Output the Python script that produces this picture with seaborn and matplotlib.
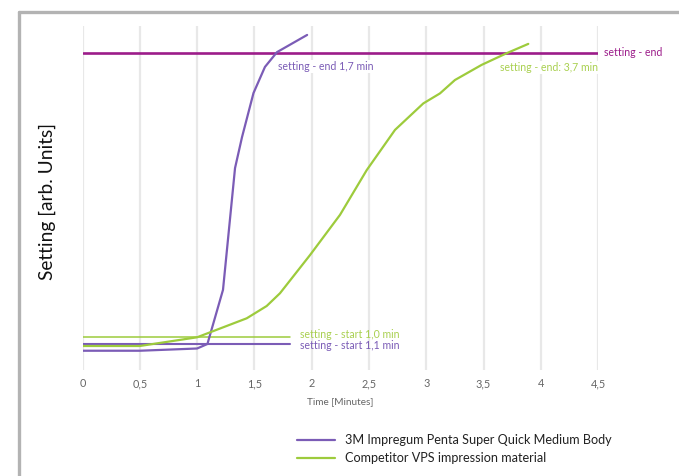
import numpy as np
import pandas as pd
import seaborn as sns
import matplotlib
matplotlib.use("Agg")
import matplotlib.pyplot as plt
from matplotlib.lines import Line2D

# Setting curves (time in minutes, setting in arbitrary units)
impregum_time = [0.0, 0.5, 1.0, 1.09, 1.226, 1.331, 1.392, 1.492, 1.592, 1.697, 1.96]
impregum_setting = [5.6, 5.6, 6.25, 7.56, 23.3, 58.7, 67.7, 80.5, 88.1, 92.4, 97.4]

competitor_time = [0.0, 0.5, 1.0, 1.433, 1.607, 1.723, 1.985, 2.247, 2.48, 2.727,
                   2.974, 3.119, 3.25, 3.483, 3.702, 3.89]
competitor_setting = [6.98, 6.98, 9.51, 15.03, 18.6, 22.3, 33.4, 45.1, 58.1, 69.8,
                      77.5, 80.4, 84.3, 88.7, 92.1, 94.8]

series_names = ["3M Impregum Penta Super Quick Medium Body",
                "Competitor VPS impression material"]

# Reference levels
setting_end_level = 92.2
start_level_impregum = 7.6
start_level_competitor = 9.7
start_line_end = 1.81

x_ticks = [0, 0.5, 1, 1.5, 2, 2.5, 3, 3.5, 4, 4.5]
x_tick_labels = ["0", "0,5", "1", "1,5", "2", "2,5", "3", "3,5", "4", "4,5"]

PURPLE = "#7b5cb6"
GREEN = "#9dcb3c"
GREEN_TXT = "#a9d050"
MAGENTA = "#9c1c8a"
GREY_TXT = "#666666"

sns.set_style("white")
plt.rcParams["font.family"] = ["Lato", "DejaVu Sans"]

df = pd.concat([
    pd.DataFrame({"time": impregum_time, "setting": impregum_setting,
                  "material": series_names[0]}),
    pd.DataFrame({"time": competitor_time, "setting": competitor_setting,
                  "material": series_names[1]}),
], ignore_index=True)

fig = plt.figure(figsize=(6.79, 4.76), dpi=100)
ax = fig.add_axes([82.5 / 679, 106 / 476, 515.7 / 679, 344 / 476])

# vertical grid
for xt in x_ticks:
    ax.axvline(xt, color="#e8e8e8", lw=1.6, zorder=0)

# setting-end and setting-start reference lines
ax.plot([0, 4.5], [setting_end_level] * 2, color=MAGENTA, lw=1.9, zorder=2)
ax.plot([0, start_line_end], [start_level_competitor] * 2, color=GREEN, lw=1.1, zorder=2)
ax.plot([0, start_line_end], [start_level_impregum] * 2, color=PURPLE, lw=1.5, zorder=2)

sns.lineplot(data=df, x="time", y="setting", hue="material",
             palette={series_names[0]: PURPLE, series_names[1]: GREEN},
             sort=False, lw=1.6, ax=ax, legend=False, zorder=3)

ax.set_xlim(0, 4.5)
ax.set_ylim(0, 100)
ax.set_xticks(x_ticks)
ax.set_xticklabels(x_tick_labels, fontsize=7.8, color=GREY_TXT)
ax.set_yticks([])
ax.tick_params(axis="x", length=0, pad=6)
for s in ax.spines.values():
    s.set_visible(False)
ax.set_xlabel("Time [Minutes]", fontsize=7.2, color=GREY_TXT)
ax.xaxis.set_label_coords(0.5, -0.08)
ax.set_ylabel("")

fig.text(47 / 679, 1 - 201 / 476, "Setting [arb. Units]", rotation=90,
         fontsize=13.8, color="#111111", ha="center", va="center")

box = dict(facecolor="white", edgecolor="none", pad=1.0)
ann_size = 7.6
ax.annotate("setting - end", xy=(4.5, setting_end_level), xytext=(4.5, 0),
            textcoords="offset points", fontsize=ann_size, color=MAGENTA,
            ha="left", va="center")
ax.text(1.71, 88.2, "setting - end 1,7 min", fontsize=ann_size, color=PURPLE,
        ha="left", va="center", bbox=box, zorder=4)
ax.text(4.5, 87.9, "setting - end: 3,7 min", fontsize=ann_size, color=GREEN_TXT,
        ha="right", va="center", bbox=box, zorder=4)
ax.text(1.90, 10.3, "setting - start 1,0 min", fontsize=ann_size, color=GREEN_TXT,
        ha="left", va="center", zorder=4)
ax.text(1.90, 7.0, "setting - start 1,1 min", fontsize=ann_size, color=PURPLE,
        ha="left", va="center", zorder=4)

handles = [Line2D([], [], color=PURPLE, lw=1.6), Line2D([], [], color=GREEN, lw=1.6)]
fig.legend(handles, series_names, loc="upper left",
           bbox_to_anchor=(286 / 679, 1 - 423 / 476), frameon=False,
           fontsize=9.1, handlelength=3.0, handletextpad=0.75,
           labelspacing=0.45, labelcolor="#222222")

# outer frame (top and left edges)
fig.add_artist(Line2D([19 / 679, 1.0], [1 - 12 / 476] * 2, color="#b3b3b3", lw=2.4,
                      transform=fig.transFigure))
fig.add_artist(Line2D([19 / 679] * 2, [0.0, 1 - 12 / 476], color="#b3b3b3", lw=2.4,
                      transform=fig.transFigure))

fig.savefig("out.png", dpi=100, facecolor="white")
